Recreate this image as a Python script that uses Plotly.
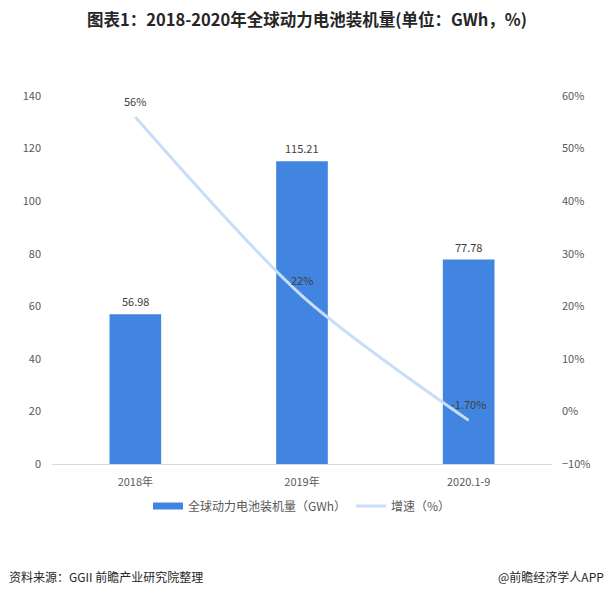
import plotly.graph_objects as go

categories = ["2018年", "2019年", "2020.1-9"]
capacity = [56.98, 115.21, 77.78]
growth = [56, 22, -1.70]
growth_labels = ["56%", "22%", "-1.70%"]

bar_color = "#4285E0"
line_color = "#C9DDF6"
font_cjk = "Noto Sans CJK SC"
label_color = "#404040"

fig = go.Figure()
fig.add_trace(go.Bar(
    x=categories, y=capacity, name="全球动力电池装机量（GWh）",
    marker=dict(color=bar_color, line=dict(width=0)),
    width=0.31, showlegend=False,
))
# legend proxy for the bar series (wide rectangle symbol)
fig.add_trace(go.Scatter(
    x=[None], y=[None], name="全球动力电池装机量（GWh）", mode="lines",
    line=dict(color=bar_color, width=7),
))
fig.add_trace(go.Scatter(
    x=categories, y=growth, name="增速（%）", yaxis="y2",
    mode="lines",
    line=dict(color=line_color, width=3, shape="spline", smoothing=0.8),
))

for c, v in zip(categories, capacity):
    fig.add_annotation(x=c, y=v, text=f"{v:.2f}", showarrow=False, yshift=13,
                       yanchor="middle", font=dict(size=11, color=label_color))
for c, v, t in zip(categories, growth, growth_labels):
    fig.add_annotation(x=c, y=v, yref="y2", text=t, showarrow=False, yshift=16,
                       yanchor="middle", font=dict(size=11, color=label_color))

fig.update_layout(
    width=614, height=597,
    margin=dict(l=52, r=62, t=96, b=133),
    paper_bgcolor="white", plot_bgcolor="white",
    font=dict(family=font_cjk, size=11, color="#595959"),
    title=dict(text="<b>图表1：2018-2020年全球动力电池装机量(单位：GWh，%)</b>",
               x=0.5, xanchor="center", y=0.966, yanchor="middle",
               font=dict(size=16.5, color="#262626", family=font_cjk)),
    bargap=0.69,
    xaxis=dict(showgrid=False, showline=True, linecolor="#D9D9D9", linewidth=1,
               ticks="", ticklabelstandoff=8, tickfont=dict(size=11, color="#595959")),
    yaxis=dict(range=[0, 140], dtick=20, showgrid=False, zeroline=False,
               showline=False, ticks="", ticklabelstandoff=10,
               tickfont=dict(size=11, color="#595959")),
    yaxis2=dict(range=[-10, 60], dtick=10, overlaying="y", side="right",
                showgrid=False, zeroline=False, showline=False, ticksuffix="%",
                ticklabelstandoff=9, tickfont=dict(size=11, color="#595959")),
    legend=dict(orientation="h", x=0.5, xanchor="center", y=-0.114, yanchor="middle",
                font=dict(size=12, color="#595959"), traceorder="normal"),
)

fig.add_annotation(text="资料来源：GGII 前瞻产业研究院整理", xref="paper", yref="paper",
                   x=-45/500, xanchor="left", y=-0.307, yanchor="middle", showarrow=False,
                   font=dict(size=12, color="#262626"))
fig.add_annotation(text="@前瞻经济学人APP", xref="paper", yref="paper",
                   x=(606-52)/500, xanchor="right", y=-0.307, yanchor="middle", showarrow=False,
                   font=dict(size=12, color="#262626"))

fig.write_html("out.html", config={"displayModeBar": False},
               post_script="document.body.style.margin='0px';")
